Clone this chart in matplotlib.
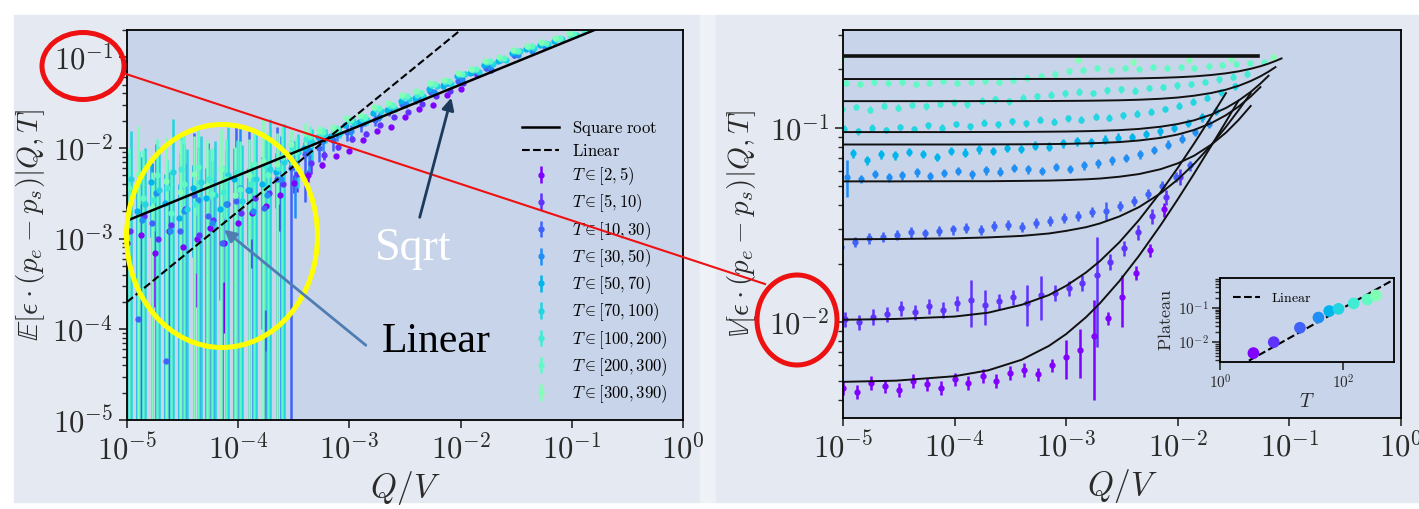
import numpy as np
import matplotlib.pyplot as plt
from matplotlib.patches import Ellipse, Rectangle, FancyArrowPatch
from matplotlib.lines import Line2D
from matplotlib.ticker import NullLocator, NullFormatter, FuncFormatter

plt.rcParams['mathtext.fontset'] = 'cm'
plt.rcParams['font.family'] = 'DejaVu Serif'
plt.rcParams['axes.linewidth'] = 1.3
plt.rcParams['xtick.major.size'] = 6
plt.rcParams['ytick.major.size'] = 6
plt.rcParams['ytick.minor.size'] = 3.5
plt.rcParams['xtick.major.width'] = 1.2
plt.rcParams['ytick.major.width'] = 1.2
plt.rcParams['ytick.minor.width'] = 1.0
plt.rcParams['xtick.color'] = '#2a2a2a'
plt.rcParams['ytick.color'] = '#2a2a2a'
plt.rcParams['axes.labelcolor'] = '#2a2a2a'

W, H = 1419, 509

# Q/V sampling, eight points per decade
q_grid = [1.0e-5, 1.33e-5, 1.78e-5, 2.37e-5, 3.16e-5, 4.22e-5, 5.62e-5, 7.5e-5,
          1.0e-4, 1.33e-4, 1.78e-4, 2.37e-4, 3.16e-4, 4.22e-4, 5.62e-4, 7.5e-4,
          1.0e-3, 1.33e-3, 1.78e-3, 2.37e-3, 3.16e-3, 4.22e-3, 5.62e-3, 7.5e-3,
          1.0e-2, 1.33e-2, 1.78e-2, 2.37e-2, 3.16e-2, 4.22e-2, 5.62e-2, 7.5e-2,
          1.0e-1, 1.33e-1]

t_labels = [r'$T\in[2,5)$', r'$T\in[5,10)$', r'$T\in[10,30)$', r'$T\in[30,50)$',
            r'$T\in[50,70)$', r'$T\in[70,100)$', r'$T\in[100,200)$',
            r'$T\in[200,300)$', r'$T\in[300,390)$']
t_mid = [3.5, 7.5, 20, 40, 60, 85, 150, 250, 345]
plateau = [0.0049, 0.0102, 0.0267, 0.053, 0.082, 0.095, 0.137, 0.178, 0.234]

# small per-bin offsets in Q of the sampled points
q_shift_left = [1.00, 1.06, 0.95, 1.03, 0.92, 1.09, 0.97, 1.04, 0.94]
q_shift_right = [1.00, 1.05, 0.96, 1.08, 0.93, 1.03, 0.98, 1.06, 0.95]

# ---- left panel: mean of eps*(pe-ps)
mean_2_5 = [0.0009, 0.0011, 0.0007, 0.0012, 0.0008, 0.0010, 0.0013, 0.0009, 0.0015, 0.0019,
            0.0023, 0.0030, 0.0041, 0.0050,
            0.0065, 0.0082, 0.0092, 0.0121, 0.0152, 0.0170, 0.0219, 0.0267, 0.0300, 0.0381, 0.0450]
mean_5_10 = [0.0012, 0.0018, 0.0010, 0.0014, 0.0021, 0.0011, 0.0016, 0.0024, 0.0019, 0.0028,
             0.0032, 0.0040, 0.0052, 0.0068,
             0.0083, 0.0103, 0.0126, 0.0143, 0.0179, 0.0219, 0.0247, 0.0309, 0.0375, 0.0420,
             0.0525, 0.0636, 0.0720]
mean_10_30 = [0.0020, 0.00013, 0.0015, 0.000045, 0.0012, 0.0030, 0.0018, 0.0009, 0.0026, 0.0034,
              0.0022, 0.0045, 0.0060, 0.0085,
              0.0101, 0.0123, 0.0150, 0.0183, 0.0205, 0.0255, 0.0309, 0.0341, 0.0420, 0.0511,
              0.0550, 0.0694, 0.0767, 0.0939, 0.1050]
mean_30_50 = [0.0022, 0.0016, 0.0032, 0.0012, 0.0020, 0.0027, 0.0015, 0.0024, 0.0036, 0.0020,
              0.0030, 0.0045, 0.0068, 0.0095,
              0.0119, 0.0144, 0.0155, 0.0201, 0.0222, 0.0272, 0.0303, 0.0374, 0.0413, 0.0520,
              0.0575, 0.0705, 0.0787, 0.0963, 0.1070, 0.1180, 0.1310]
mean_50_70 = [0.0030, 0.0020, 0.0042, 0.0025, 0.0017, 0.0036, 0.0028, 0.0021, 0.0045, 0.0034,
              0.0040, 0.0055, 0.0075, 0.0100,
              0.0131, 0.0137, 0.0177, 0.0192, 0.0243, 0.0262, 0.0332, 0.0358, 0.0450, 0.0485,
              0.0625, 0.0665, 0.0814, 0.0909, 0.1110, 0.1240, 0.1370, 0.1510]
mean_70_100 = [0.0045, 0.0024, 0.0034, 0.0055, 0.0021, 0.0042, 0.0030, 0.0050, 0.0026, 0.0046,
               0.0058, 0.0070, 0.0090, 0.0115,
               0.0137, 0.0148, 0.0190, 0.0201, 0.0257, 0.0272, 0.0351, 0.0374, 0.0480, 0.0511,
               0.0650, 0.0694, 0.0854, 0.0939, 0.1160, 0.1260, 0.1400, 0.1580, 0.1740]
mean_100_200 = [0.0018, 0.0042, 0.0027, 0.0036, 0.0058, 0.0024, 0.0046, 0.0033, 0.0055, 0.0040,
                0.0065, 0.0060, 0.0100, 0.0125,
                0.0143, 0.0153, 0.0198, 0.0210, 0.0270, 0.0292, 0.0365, 0.0384, 0.0495, 0.0528,
                0.0650, 0.0723, 0.0880, 0.0963, 0.1160, 0.1290, 0.1420, 0.1580, 0.1770, 0.2010]
mean_200_300 = [0.0036, 0.0028, 0.0050, 0.0019, 0.0040, 0.0062, 0.0031, 0.0045, 0.0035, 0.0066,
                0.0050, 0.0080, 0.0090, 0.0135,
                0.0149, 0.0162, 0.0205, 0.0220, 0.0274, 0.0296, 0.0371, 0.0406, 0.0506, 0.0541,
                0.0660, 0.0740, 0.0900, 0.0986, 0.1170, 0.1320, 0.1450, 0.1620, 0.1820, 0.2050]
mean_300_390 = [0.0026, 0.0052, 0.0022, 0.0043, 0.0033, 0.0051, 0.0038, 0.0058, 0.0030, 0.0050,
                0.0072, 0.0066, 0.0110, 0.0145,
                0.0155, 0.0167, 0.0213, 0.0229, 0.0285, 0.0311, 0.0388, 0.0423, 0.0525, 0.0563,
                0.0675, 0.0751, 0.0920, 0.1000, 0.1200, 0.1320, 0.1490, 0.1640, 0.1860, 0.2100]

# relative error of the mean at each Q, and per-bin scaling
rel_err_left = [6.0, 8.0, 5.0, 7.0, 9.0, 5.5, 7.5, 6.0, 8.0, 5.0, 6.5, 4.0, 1.5, 1.0,
                0.45, 0.35, 0.30, 0.25, 0.20, 0.18, 0.16, 0.15, 0.13, 0.12, 0.11, 0.10,
                0.10, 0.09, 0.08, 0.08, 0.07, 0.07, 0.06, 0.06]
err_scale_left = [0.15, 0.25, 0.7, 0.5, 0.15, 0.4, 0.15, 0.3, 0.3]

# reference laws
sqrt_q = [1.0e-5, 0.2]
sqrt_v = [0.00158, 0.2236]
lin_q = [1.0e-5, 0.012]
lin_v = [0.0002, 0.24]

# ---- right panel: variance of eps*(pe-ps)
var_2_5 = [0.0046, 0.0044, 0.0049, 0.0047, 0.0045, 0.0050, 0.0048, 0.0046, 0.0051, 0.0049,
           0.0053, 0.0050, 0.0055, 0.0057, 0.0054, 0.0060, 0.0066, 0.0072, 0.0085, 0.0105,
           0.0135, 0.0180, 0.0235, 0.0380]
var_5_10 = [0.0104, 0.0100, 0.0107, 0.0110, 0.0118, 0.0113, 0.0121, 0.0116, 0.0125, 0.0130,
            0.0122, 0.0128, 0.0135, 0.0126, 0.0138, 0.0142, 0.0150, 0.0160, 0.0175, 0.0205,
            0.0240, 0.0290, 0.0350, 0.0440, 0.0560]
var_10_30 = [0.0245, 0.0258, 0.0270, 0.0275, 0.0282, 0.0290, 0.0286, 0.0295, 0.0300, 0.0305,
             0.0298, 0.0312, 0.0318, 0.0310, 0.0325, 0.0332, 0.0345, 0.0352, 0.0368, 0.0375,
             0.0395, 0.0420, 0.0455, 0.0500, 0.0560, 0.0640]
var_30_50 = [0.0560, 0.0545, 0.0580, 0.0555, 0.0570, 0.0590, 0.0565, 0.0585, 0.0600, 0.0575,
             0.0605, 0.0595, 0.0620, 0.0610, 0.0600, 0.0630, 0.0615, 0.0640, 0.0655, 0.0680,
             0.0700, 0.0730, 0.0770, 0.0820, 0.0880, 0.0950, 0.1050]
var_50_70 = [0.0700, 0.0740, 0.0680, 0.0730, 0.0720, 0.0750, 0.0735, 0.0710, 0.0760, 0.0745,
             0.0775, 0.0760, 0.0790, 0.0780, 0.0810, 0.0800, 0.0830, 0.0850, 0.0840, 0.0870,
             0.0890, 0.0900, 0.0930, 0.0960, 0.1000, 0.1060, 0.1130, 0.1220]
var_70_100 = [0.0990, 0.0960, 0.1000, 0.0975, 0.1010, 0.0985, 0.1030, 0.1000, 0.1045, 0.1020,
              0.1060, 0.1040, 0.1080, 0.1055, 0.1100, 0.1075, 0.1120, 0.1100, 0.1140, 0.1125,
              0.1160, 0.1180, 0.1210, 0.1250, 0.1300, 0.1360, 0.1430, 0.1520, 0.1630]
var_100_200 = [0.1250, 0.1280, 0.1240, 0.1300, 0.1270, 0.1310, 0.1290, 0.1330, 0.1350, 0.1320,
               0.1380, 0.1400, 0.1370, 0.1430, 0.1450, 0.1480, 0.1500, 0.1530, 0.1510, 0.1560,
               0.1580, 0.1550, 0.1600, 0.1620, 0.1650, 0.1680, 0.1720, 0.1770, 0.1830, 0.1900]
var_200_300 = [0.1700, 0.1680, 0.1720, 0.1690, 0.1710, 0.1670, 0.1700, 0.1730, 0.1690, 0.1720,
               0.1740, 0.1710, 0.1760, 0.1800, 0.1850, 0.1900, 0.1950, 0.1980, 0.2020, 0.1990,
               0.2040, 0.2010, 0.2050, 0.2030, 0.2060, 0.2040, 0.2080, 0.2100, 0.2120, 0.2150,
               0.2180]
var_300_390 = [0.2250, np.nan, np.nan, np.nan, np.nan, np.nan, np.nan, np.nan, np.nan, np.nan,
               np.nan, np.nan, np.nan, np.nan, np.nan, np.nan, np.nan, 0.2220, np.nan, np.nan,
               np.nan, 0.2180, np.nan, np.nan, np.nan, 0.2240, np.nan, np.nan, 0.2260, np.nan,
               np.nan, 0.2320]

rel_err_right = [0.08, 0.09, 0.06, 0.05, 0.05, 0.04, 0.04, 0.035, 0.035]
# a few points with much wider error bars: (bin, Q index, error)
wide_bin = [1, 1, 1, 1, 1, 0, 0, 0, 0, 2, 3]
wide_idx = [9, 10, 13, 14, 18, 16, 17, 18, 20, 19, 0]
wide_err = [0.0035, 0.0025, 0.003, 0.0035, 0.010, 0.0015, 0.002, 0.0045, 0.004, 0.004, 0.012]

# fitted variance curves, one per T bin
fit_q = [1e-5, 3e-5, 1e-4, 2e-4, 4e-4, 7e-4, 1e-3, 1.5e-3, 2e-3, 3e-3, 4.5e-3, 7e-3,
         1e-2, 1.4e-2, 2e-2, 2.7e-2, 3.5e-2, 4.5e-2, 5.5e-2, 6.5e-2, 7.5e-2, 8.5e-2]
fit_2_5 = [0.00494, 0.00501, 0.00528, 0.00566, 0.00642, 0.00756, 0.0087, 0.0106, 0.0125,
           0.0163, 0.0220, 0.0315, 0.0429, 0.0581, 0.0809, 0.1075, 0.1379]
fit_5_10 = [0.0103, 0.0104, 0.0107, 0.0112, 0.0123, 0.0138, 0.0154, 0.0180, 0.0206, 0.0258,
            0.0336, 0.0466, 0.0622, 0.0830, 0.1142, 0.1506]
fit_10_30 = [0.0267, 0.0268, 0.0270, 0.0273, 0.0278, 0.0286, 0.0295, 0.0308, 0.0322, 0.0350,
             0.0391, 0.0460, 0.0542, 0.0652, 0.0817, 0.1010, 0.1230, 0.1505]
fit_30_50 = [0.0530, 0.0530, 0.0531, 0.0531, 0.0533, 0.0535, 0.0538, 0.0543, 0.0548, 0.0560,
             0.0578, 0.0612, 0.0656, 0.0718, 0.0819, 0.0944, 0.1096, 0.1294]
fit_50_70 = [0.0820, 0.0820, 0.0820, 0.0821, 0.0822, 0.0824, 0.0826, 0.0831, 0.0835, 0.0844,
             0.0860, 0.0887, 0.0923, 0.0974, 0.1057, 0.1160, 0.1284, 0.1447, 0.1618]
fit_70_100 = [0.0950, 0.0950, 0.0950, 0.0951, 0.0952, 0.0954, 0.0956, 0.0960, 0.0964, 0.0972,
              0.0986, 0.1012, 0.1045, 0.1092, 0.1169, 0.1263, 0.1378, 0.1528, 0.1686, 0.1849]
fit_100_200 = [0.1370, 0.1370, 0.1370, 0.1371, 0.1371, 0.1372, 0.1374, 0.1376, 0.1379, 0.1384,
               0.1393, 0.1409, 0.1430, 0.1461, 0.1509, 0.1569, 0.1642, 0.1738, 0.1838, 0.1942,
               0.2049]
fit_200_300 = [0.1780, 0.1780, 0.1780, 0.1780, 0.1781, 0.1782, 0.1782, 0.1784, 0.1785, 0.1789,
               0.1794, 0.1805, 0.1818, 0.1836, 0.1867, 0.1904, 0.1949, 0.2009, 0.2071, 0.2136,
               0.2203, 0.2271]
top_fit_q = [1e-5, 0.052]
top_fit_v = [0.234, 0.234]

# inset: plateau against T with a linear law
lin_t = [1.0, 1000.0]
lin_plateau = [0.001, 1.0]

colors = plt.cm.rainbow(np.linspace(0, 0.5, 9))
means = [mean_2_5, mean_5_10, mean_10_30, mean_30_50, mean_50_70, mean_70_100,
         mean_100_200, mean_200_300, mean_300_390]
variances = [var_2_5, var_5_10, var_10_30, var_30_50, var_50_70, var_70_100,
             var_100_200, var_200_300, var_300_390]
fits = [fit_2_5, fit_5_10, fit_10_30, fit_30_50, fit_50_70, fit_70_100,
        fit_100_200, fit_200_300]

decade_fmt = FuncFormatter(lambda v, pos: r'$10^{%d}$' % int(round(np.log10(v))))

fig = plt.figure(figsize=(W / 100, H / 100), dpi=100)
fig.patch.set_facecolor('white')


def fx(x):
    return x / W


def fy(y):
    return 1 - y / H


# pasted-panel backgrounds
bg = '#e5e9f2'
fig.add_artist(Rectangle((fx(14), fy(502)), fx(700) - fx(14), fy(15) - fy(502),
                         transform=fig.transFigure, color=bg, zorder=-5))
fig.add_artist(Rectangle((fx(700), fy(502)), fx(716) - fx(700), fy(15) - fy(502),
                         transform=fig.transFigure, color='#eef1f6', zorder=-5))
fig.add_artist(Rectangle((fx(716), fy(502)), fx(1419) - fx(716), fy(15) - fy(502),
                         transform=fig.transFigure, color=bg, zorder=-5))

face = '#c8d4e9'
ax1 = fig.add_axes([fx(127), fy(420), fx(683) - fx(127), fy(30) - fy(420)])
ax2 = fig.add_axes([fx(843), fy(418), fx(1401) - fx(843), fy(30) - fy(418)])
for ax in (ax1, ax2):
    ax.set_facecolor(face)
    ax.set_xscale('log')
    ax.set_yscale('log')
    ax.xaxis.set_minor_locator(NullLocator())
    ax.yaxis.set_minor_formatter(NullFormatter())
    ax.xaxis.set_major_formatter(decade_fmt)
    ax.yaxis.set_major_formatter(decade_fmt)
    ax.tick_params(labelsize=22, pad=4)
    ax.set_xlabel(r'$Q/V$', fontsize=24, labelpad=2)

# left panel
ax1.plot(sqrt_q, sqrt_v, '-', color='black', lw=1.8, label=r'$\mathrm{Square\ root}$', zorder=4)
ax1.plot(lin_q, lin_v, '--', color='black', lw=1.5, label=r'$\mathrm{Linear}$', zorder=4)
for i in range(9):
    y = np.array(means[i])
    q = np.array(q_grid[:len(y)]) * q_shift_left[i]
    err = y * np.array(rel_err_left[:len(y)]) * err_scale_left[i]
    ax1.errorbar(q, y, yerr=err, fmt='o', ms=3.5, color=colors[i], ecolor=colors[i],
                 elinewidth=1.8, capsize=0, label=t_labels[i], zorder=2)
ax1.set_xlim(1e-5, 1)
ax1.set_ylim(1e-5, 0.2)
ax1.set_ylabel(r'$\mathbb{E}[\epsilon\cdot(p_e-p_s)|Q,T]$', fontsize=21, labelpad=4)
ax1.legend(loc='lower right', frameon=False, fontsize=12, handlelength=2.2,
           labelspacing=0.33, borderaxespad=0.5)

# right panel
for i in range(9):
    y = np.array(variances[i], dtype=float)
    q = np.array(q_grid[:len(y)]) * q_shift_right[i]
    err = y * rel_err_right[i]
    for b, k, e in zip(wide_bin, wide_idx, wide_err):
        if b == i:
            err[k] = e
    ax2.errorbar(q, y, yerr=err, fmt='o', ms=3.5, color=colors[i], ecolor=colors[i],
                 elinewidth=1.8, capsize=0, zorder=2)
for f in fits:
    ax2.plot(fit_q[:len(f)], f, '-', color='#111111', lw=1.4, zorder=4)
ax2.plot(top_fit_q, top_fit_v, '-', color='#111111', lw=2.6, zorder=4)
ax2.set_xlim(1e-5, 1)
ax2.set_ylim(0.00322, 0.318)
ax2.set_ylabel(r'$\mathbb{V}[\epsilon\cdot(p_e-p_s)|Q,T]$', fontsize=21, labelpad=8)

# inset
axi = fig.add_axes([fx(1220), fy(362), fx(1394) - fx(1220), fy(278) - fy(362)])
axi.set_facecolor(face)
axi.set_xscale('log')
axi.set_yscale('log')
axi.plot(lin_t, lin_plateau, '--', color='black', lw=1.5, label=r'$\mathrm{Linear}$', zorder=3)
axi.scatter(t_mid, plateau, s=55, c=colors, zorder=4)
axi.set_xlim(1, 680)
axi.set_ylim(0.0027, 0.75)
axi.set_xticks([1, 100])
axi.set_yticks([0.01, 0.1])
axi.xaxis.set_minor_locator(NullLocator())
axi.yaxis.set_minor_formatter(NullFormatter())
axi.xaxis.set_major_formatter(decade_fmt)
axi.yaxis.set_major_formatter(decade_fmt)
axi.tick_params(labelsize=11, pad=2)
axi.set_xlabel(r'$T$', fontsize=14, labelpad=1)
axi.set_ylabel(r'$\mathrm{Plateau}$', fontsize=13, labelpad=2)
axi.legend(loc='upper left', frameon=False, fontsize=10, handlelength=2.0)

# annotations
fig.add_artist(Line2D([fx(123), fx(765)], [fy(73), fy(284)], transform=fig.transFigure,
                      color='#ee1111', lw=1.5, zorder=10))
fig.add_artist(Ellipse((fx(83), fy(66)), fx(82), fy(0) - fy(67), transform=fig.transFigure,
                       fill=False, ec='#ee1111', lw=3.6, zorder=10))
fig.add_artist(Ellipse((fx(797), fy(320)), fx(80), fy(0) - fy(90), transform=fig.transFigure,
                       fill=False, ec='#ee1111', lw=3.6, zorder=10))
fig.add_artist(Ellipse((fx(222), fy(236)), fx(191), fy(0) - fy(223), transform=fig.transFigure,
                       fill=False, ec='#ffff00', lw=3.6, zorder=10))
fig.add_artist(FancyArrowPatch((fx(419), fy(220)), (fx(452), fy(95)), transform=fig.transFigure,
                               arrowstyle='-|>', mutation_scale=18, color='#1d3a5c', lw=2, zorder=10))
fig.add_artist(FancyArrowPatch((fx(368), fy(347)), (fx(222), fy(228)), transform=fig.transFigure,
                               arrowstyle='-|>', mutation_scale=18, color='#4f7db3', lw=2, zorder=10))
fig.text(fx(375), fy(260), 'Sqrt', fontsize=33, family='Liberation Serif', color='white',
         va='baseline', zorder=11)
fig.text(fx(382), fy(352), 'Linear', fontsize=30, family='Liberation Serif', color='black',
         va='baseline', zorder=11)

fig.savefig('out.png', dpi=100)
